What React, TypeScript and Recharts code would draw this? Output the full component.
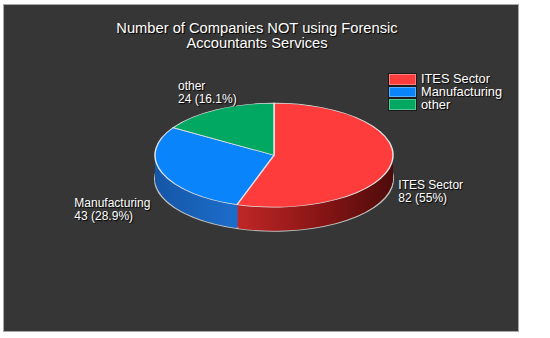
import React from 'react';
import { PieChart, Pie, Cell, Legend } from 'recharts';

const categories = ['ITES Sector', 'Manufacturing', 'other'];
const values = [82, 43, 24];

const topColors = ['#ff3c3c', '#0a84fb', '#00a862'];
const sideFills = ['url(#sideRed)', 'url(#sideBlue)', 'url(#sideGreen)'];

const data = categories.map((name, i) => ({ name, value: values[i] }));

// fake 3D: the pie is squashed with a css scale and stacked in layers
const CX = 269;
const CY = 153;
const R = 119;
const RY = 52;
const K = RY / R;
const DEPTH = 24;
const layers = Array.from({ length: DEPTH }, (_, i) => DEPTH - i);

const font = '"Liberation Sans", Arial, sans-serif';

// legend takes room in the chart, so place labels from the fixed centre
const renderLabel = (props: any) => {
  const { midAngle, name, value, percent } = props;
  const rad = Math.PI / 180;
  const c = Math.cos(midAngle * rad);
  const s = Math.sin(midAngle * rad);
  const ex = CX + (R + 12) * c;
  const ey = CY - (RY + 44) * s + 23.5;
  const line2 = `${value} (${parseFloat((percent * 100).toFixed(1))}%)`;
  const w = Math.max(name.length, line2.length) * 5.5;
  const left = c > 0.6 ? ex : c < -0.6 ? ex - w : ex - w / 2;
  return (
    <text x={left} y={ey} fill="#fff" fontSize={12} fontFamily={font} textAnchor="start" style={{ textShadow: '1px 1px 1px #000' }}>
      <tspan x={left} y={ey - 6.5} dominantBaseline="central">{name}</tspan>
      <tspan x={left} y={ey + 6.5} dominantBaseline="central">{line2}</tspan>
    </text>
  );
};

const renderLegend = (props: any) => {
  const { payload } = props;
  return (
    <div style={{ fontFamily: font }}>
      {(payload || []).map((entry: any, i: number) => (
        <div key={entry.value} style={{ display: 'flex', alignItems: 'center', height: 12.7 }}>
          <div
            style={{
              width: 27,
              height: 10.7,
              background: topColors[i],
              border: '1px solid #1a1a1a',
              boxShadow: 'inset 0 0 0 1px rgba(255,255,255,0.35)',
            }}
          />
          <span style={{ color: '#fff', fontSize: 12.8, marginLeft: 4, lineHeight: '12px', textShadow: '1px 1px 1px #000' }}>
            {entry.value}
          </span>
        </div>
      ))}
    </div>
  );
};

export default function App() {
  return (
    <div style={{ position: 'absolute', left: 0, top: 0, width: 550, height: 338, background: '#fff', overflow: 'hidden' }}>
      <svg width={0} height={0} style={{ position: 'absolute' }}>
        <defs>
          <linearGradient id="sideRed" x1="0" y1="0" x2="1" y2="0">
            <stop offset="0" stopColor="#c02727" />
            <stop offset="0.5" stopColor="#8c1616" />
            <stop offset="1" stopColor="#4e0b0b" />
          </linearGradient>
          <linearGradient id="sideBlue" x1="0" y1="0" x2="1" y2="0">
            <stop offset="0" stopColor="#1556a6" />
            <stop offset="1" stopColor="#1f78dc" />
          </linearGradient>
          <linearGradient id="sideGreen" x1="0" y1="0" x2="1" y2="0">
            <stop offset="0" stopColor="#006a3c" />
            <stop offset="1" stopColor="#008a50" />
          </linearGradient>
        </defs>
      </svg>
      <div
        style={{
          position: 'absolute',
          left: 3,
          top: 4,
          width: 514,
          height: 326,
          background: '#363636',
          border: '1px solid #a8a8a8',
        }}
      />
      <div
        style={{
          position: 'absolute',
          left: 0,
          top: 21,
          width: 514,
          textAlign: 'center',
          color: '#fff',
          fontFamily: font,
          fontSize: 14.7,
          lineHeight: '14.5px',
          textShadow: '1px 1px 1px #000',
        }}
      >
        Number of Companies NOT using Forensic
        <br />
        Accountants Services
      </div>
      <div style={{ position: 'absolute', left: 0, top: 0, width: 550, height: 640, transform: `scaleY(${K})`, transformOrigin: '0 0' }}>
        <PieChart width={550} height={640}>
          {layers.map((d) => (
            <Pie
              key={`layer-${d}`}
              data={data}
              dataKey="value"
              cx={CX}
              cy={CY / K + d / K}
              outerRadius={R}
              startAngle={90}
              endAngle={-270}
              stroke={d === DEPTH ? '#bdbdbd' : 'none'}
              strokeWidth={d === DEPTH ? 2 : 0}
              isAnimationActive={false}
            >
              {data.map((entry, i) => (
                <Cell key={entry.name} fill={sideFills[i]} />
              ))}
            </Pie>
          ))}
          <Pie
            data={data}
            dataKey="value"
            cx={CX}
            cy={CY / K}
            outerRadius={R}
            startAngle={90}
            endAngle={-270}
            stroke="#e2e2e2"
            strokeWidth={1.5}
            isAnimationActive={false}
          >
            {data.map((entry, i) => (
              <Cell key={entry.name} fill={topColors[i]} />
            ))}
          </Pie>
        </PieChart>
      </div>
      <div style={{ position: 'absolute', left: 0, top: 0 }}>
        <PieChart width={550} height={338}>
          <Pie
            data={data}
            dataKey="value"
            nameKey="name"
            cx={CX}
            cy={CY}
            outerRadius={R}
            startAngle={90}
            endAngle={-270}
            fill="none"
            stroke="none"
            label={renderLabel}
            labelLine={false}
            isAnimationActive={false}
          >
            {data.map((entry) => (
              <Cell key={entry.name} fill="none" stroke="none" />
            ))}
          </Pie>
          <Legend
            layout="vertical"
            verticalAlign="top"
            align="left"
            content={renderLegend}
            wrapperStyle={{ left: 388, top: 73, width: 140 }}
          />
        </PieChart>
      </div>
    </div>
  );
}
